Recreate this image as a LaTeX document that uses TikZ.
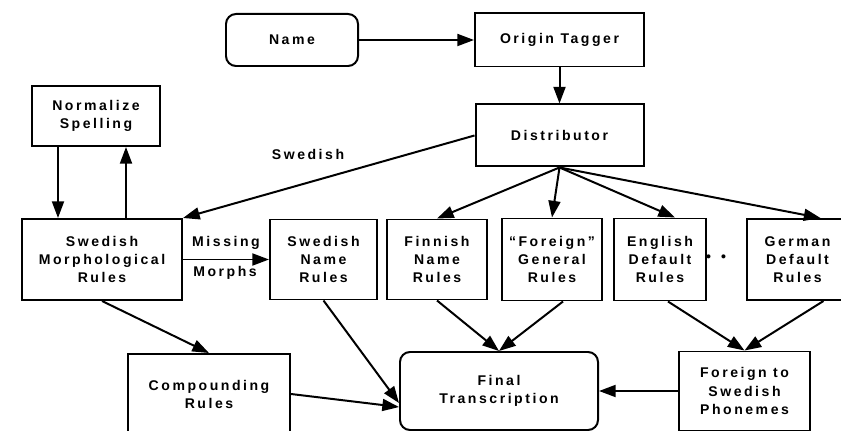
\documentclass[tikz,border=0pt]{standalone}
\usepackage{fontspec}
\newfontfamily\diagfont[LetterSpace=18]{Liberation Sans Bold}
\usetikzlibrary{positioning,arrows.meta}

\begin{document}
\begin{tikzpicture}
        [x=0.03cm,y=-0.03cm,line width=1.7pt,
        box/.style={draw,line width=1.7pt,align=center,inner sep=2pt,
          font=\diagfont\fontsize{12}{15.4}\selectfont},
        rbox/.style={box,rounded corners=0.3cm},
        lbl/.style={font=\diagfont\fontsize{12}{15.4}\selectfont},
        >={Triangle[length=0.5cm,width=0.36cm]}]
        \clip (0,0) rectangle (841,431);
        \node[rbox,minimum width=3.96cm,minimum height=1.56cm](name) at (292,40){Name};
        \node[box,minimum width=5.07cm,minimum height=1.59cm](tagger)[right =3.45cm of name]{Origin Tagger};
        \node[box,minimum width=5.04cm,minimum height=1.86cm](dist)[below =1.08cm of tagger]{Distributor};
        \node[box,minimum width=3.84cm,minimum height=1.8cm](norm) at (96,116){Normalize\\Spelling};
        \node[box,minimum width=4.8cm,minimum height=2.43cm](morph) at (102,259.5){Swedish\\Morphological\\Rules};
        \node[box,minimum width=3.21cm,minimum height=2.4cm](swname)[right =2.58cm of morph]{Swedish\\Name\\Rules};
        \node[box,minimum width=3cm,minimum height=2.4cm](finnish)[right =0.24cm of swname]{Finnish\\Name\\Rules};
        \node[box,minimum width=3cm,minimum height=2.46cm](foreign)[right =0.39cm of finnish]{“Foreign”\\General\\Rules};
        \node[box,minimum width=2.76cm,minimum height=2.46cm](english)[right =0.3cm of foreign]{English\\Default\\Rules};
        \node[box,minimum width=3.03cm,minimum height=2.43cm](german)[right =1.17cm of english]{German\\Default\\Rules};
        \node[box,minimum width=4.86cm,minimum height=2.4cm](comp) at (209,394){Compounding\\Rules};
        \node[rbox,minimum width=5.94cm,minimum height=2.34cm](final) at (499,391){Final\\Transcription};
        \node[box,minimum width=3.93cm,minimum height=2.37cm](fts)[right =2.37cm of final]{Foreign to\\Swedish\\Phonemes};
        \node[lbl](swlbl) at (308,154){Swedish};
        \node[lbl](miss) at (226,243){Missing};
        \node[lbl](morphs) at (225,273){Morphs};
        \node[lbl](dots) at (716,258){•\hspace{0.3cm}•};
        \draw[->] (name) -- (tagger);
        \draw[->] (tagger) -- (dist);
        \draw[->] (dist.west) -- (morph.north east);
        \draw[->] (dist.south) -- (finnish.north);
        \draw[->] (dist.south) -- (foreign.north);
        \draw[->] (dist.south) -- ([xshift=0.45cm]english.north);
        \draw[->] (dist.south) -- ([xshift=0.69cm]german.north);
        \draw[->] ([xshift=-1.14cm]norm.south) -- ([xshift=-1.14cm]norm.south |- morph.north);
        \draw[<-] ([xshift=0.9cm]norm.south) -- ([xshift=0.9cm]norm.south |- morph.north);
        \draw[->] (morph.east) -- (morph.east -| swname.west);
        \draw[->] (morph.south) -- (comp.north);
        \draw[->] (swname.south) -- ([yshift=-0.36cm]final.west);
        \draw[->] (comp.east) -- ([yshift=-0.48cm]final.west);
        \draw[->] (finnish.south) -- (final.north);
        \draw[->] ([xshift=0.33cm]foreign.south) -- (final.north);
        \draw[->] ([xshift=0.24cm]english.south) -- (fts.north);
        \draw[->] ([xshift=0.78cm]german.south) -- (fts.north);
        \draw[->] (fts) -- (final);
\end{tikzpicture}
\end{document}
